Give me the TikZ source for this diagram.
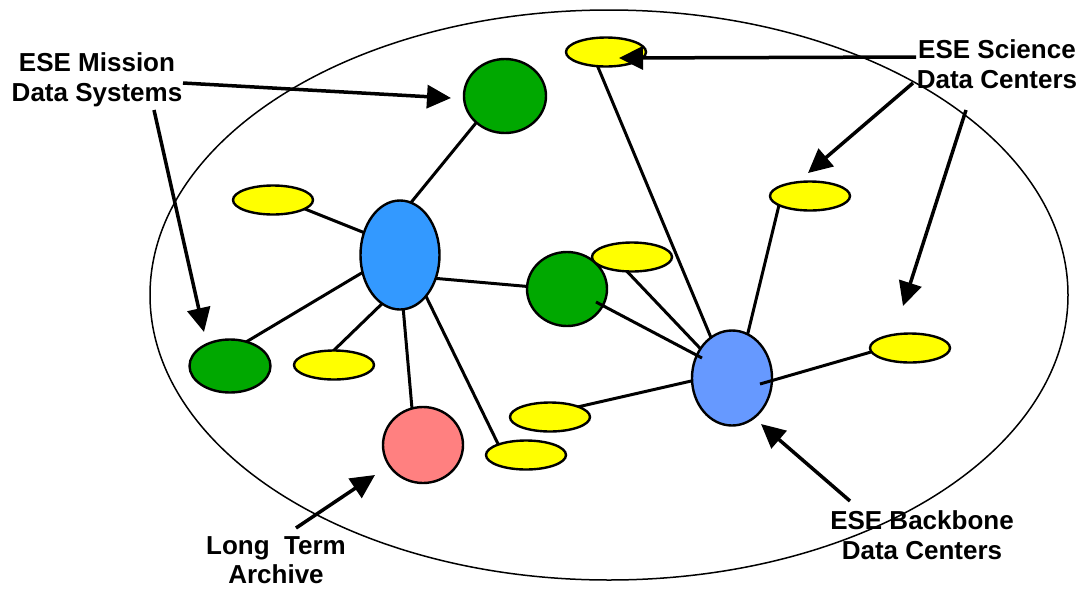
\documentclass[tikz,border=0pt]{standalone}
\usepackage{fontspec}
\setmainfont{Liberation Sans}
\usetikzlibrary{shapes.geometric,arrows.meta,calc,backgrounds}
\definecolor{dgreen}{RGB}{0,168,0}
\definecolor{blueA}{RGB}{51,153,255}
\definecolor{blueB}{RGB}{102,153,255}
\definecolor{pinkA}{RGB}{255,128,128}
\definecolor{yelA}{RGB}{255,255,0}
\begin{document}
\begin{tikzpicture}[x=1pt,y=-1pt,
  blob/.style={ellipse, draw=black, line width=2.4pt, inner sep=0pt},
  yel/.style={blob, fill=yelA, minimum width=80pt, minimum height=29pt},
  grn/.style={blob, fill=dgreen},
  edge/.style={line width=3pt},
  arr/.style={line width=3.5pt, -{Triangle[length=24pt,width=23pt]}},
  lbl/.style={font=\fontsize{26}{29.5}\selectfont\bfseries, align=center, inner sep=0pt}
]
\useasboundingbox (0,0) rectangle (1085,590);

% nodes
\node[yel] (y1) at (606,52) {};
\node[grn, minimum width=82pt, minimum height=74pt] (g1) at (505,96) {};
\node[yel] (y2) at (273,200) {};
\node[blob, fill=blueA, minimum width=79pt, minimum height=109pt] (b1) at (400,255) {};
\node[grn, minimum width=80pt, minimum height=74pt] (g2) at (567,289) {};
\node[yel] (y3) at (632,257) {};
\node[blob, fill=blueB, minimum width=80pt, minimum height=95pt] (b2) at (732,378) {};
\node[yel] (y4) at (810,196) {};
\node[yel] (y5) at (910,348) {};
\node[yel] (y6) at (550,417) {};
\node[yel] (y7) at (526,455) {};
\node[blob, fill=pinkA, minimum width=80pt, minimum height=76pt] (pk) at (423,445) {};
\node[grn, minimum width=81pt, minimum height=53pt] (g3) at (230,366) {};
\node[yel] (y8) at (334,365) {};

\begin{scope}[on background layer]
  \draw[line width=1.5pt] (609,295) ellipse [x radius=459, y radius=285];
  \draw[edge] ($(b1)+(0,-39)$) -- ($(g1)+(-25,22)$);
  \draw[edge] ($(y2)+(17,3)$) -- ($(b1)+(-25,-18)$);
  \draw[edge] ($(g3)+(6,-18)$) -- ($(b1)+(-25,10)$);
  \draw[edge] ($(y8)+(-6,-9)$) -- ($(b1)+(-10,41)$);
  \draw[edge] ($(b1)+(2,40)$) -- ($(pk)+(-10,-25)$);
  \draw[edge] ($(b1)+(20,29)$) -- ($(y7)+(-24,-3)$);
  \draw[edge] ($(b1)+(20,22)$) -- ($(g2)+(-22,-1)$);
  \draw[edge] ($(y3)+(-12,7)$) -- ($(b2)+(-17,-14)$);
  \draw[edge] ($(y1)+(-11,8)$) -- ($(b2)+(-20,-38)$);
  \draw[edge] ($(y4)+(-30,5)$) -- ($(b2)+(13,-33)$);
  \draw[edge] ($(y6)+(10,-6)$) -- ($(b2)+(-32,1)$);
\end{scope}

% edges drawn over nodes
\draw[edge] ($(g2)+(29,13)$) -- ($(b2)+(-30,-20)$);
\draw[edge] ($(b2)+(28,6)$) -- ($(y5)+(-39,4)$);

% labels
\node[lbl] (lm) at (97,80) {ESE Mission\\Data Systems};
\node[lbl] (ls) at (997,64) {ESE Science\\Data Centers};
\node[lbl] (ll) at (276,560) {Long\ \ Term\\Archive};
\node[lbl] (lb) at (922,535) {ESE Backbone\\Data Centers};

% arrows
\coordinate (a1s) at (183,83);  \coordinate (a1t) at (451,98);
\coordinate (a2s) at (154,110); \coordinate (a2t) at (204,332);
\coordinate (a3s) at (916,57);  \coordinate (a3t) at (619,58);
\coordinate (a4s) at (913,83);  \coordinate (a4t) at (808,173);
\coordinate (a5s) at (966,110); \coordinate (a5t) at (903,306);
\coordinate (a6s) at (296,528); \coordinate (a6t) at (375,475);
\coordinate (a7s) at (850,501); \coordinate (a7t) at (761,424);
\draw[arr] (a1s) -- (a1t);
\draw[arr] (a2s) -- (a2t);
\draw[arr] (a3s) -- (a3t);
\draw[arr] (a4s) -- (a4t);
\draw[arr] (a5s) -- (a5t);
\draw[arr] (a6s) -- (a6t);
\draw[arr] (a7s) -- (a7t);
\end{tikzpicture}
\end{document}
